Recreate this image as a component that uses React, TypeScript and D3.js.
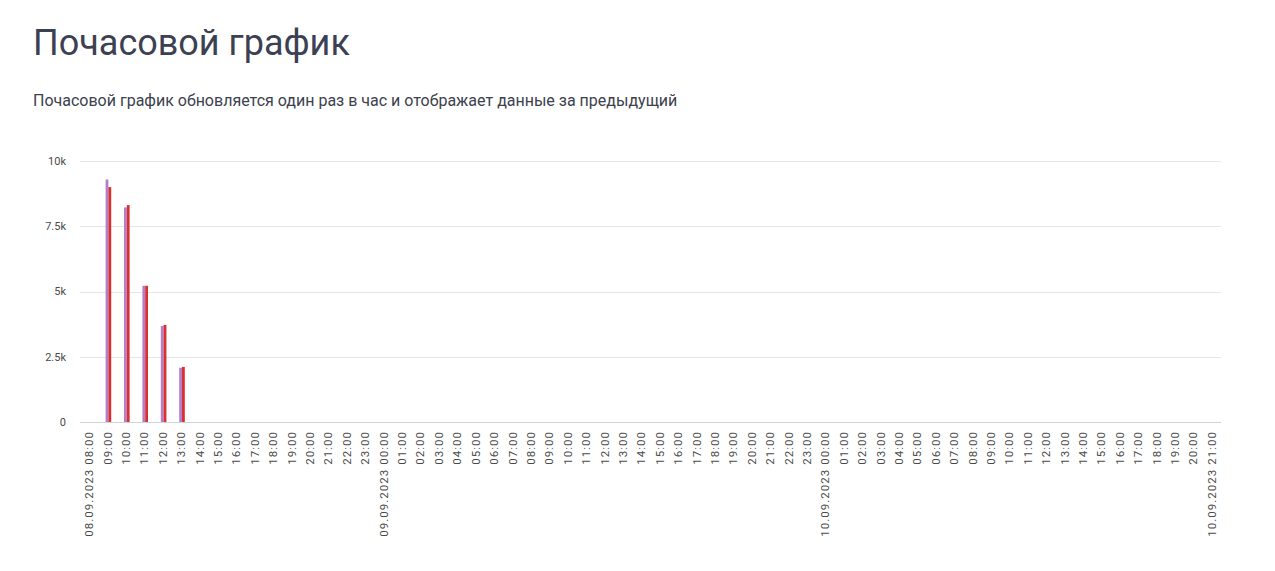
import { useEffect, useRef } from 'react';
import * as d3 from 'd3';

// hourly categories: 08.09.2023 08:00 .. 10.09.2023 21:00
const days = ['08.09.2023', '09.09.2023', '10.09.2023'];
const firstDayHours = d3.range(8, 24);
const midDayHours = d3.range(0, 24);
const lastDayHours = d3.range(0, 22);

const pad = (h: number) => `${String(h).padStart(2, '0')}:00`;

const categories: string[] = [
  ...firstDayHours.map((h) => `${days[0]} ${pad(h)}`),
  ...midDayHours.map((h) => `${days[1]} ${pad(h)}`),
  ...lastDayHours.map((h) => `${days[2]} ${pad(h)}`),
];

// series values (only the first hours carry data)
const seriesA = [0, 9290, 8220, 5220, 3680, 2080];
const seriesB = [0, 9000, 8310, 5220, 3720, 2110];

const yTicks = [0, 2500, 5000, 7500, 10000];
const yTickLabels = ['0', '2.5k', '5k', '7.5k', '10k'];

const W = 1275;
const H = 571;

export default function App() {
  const svgRef = useRef<SVGSVGElement>(null);

  useEffect(() => {
    if (!svgRef.current) return;
    const svg = d3.select(svgRef.current);
    svg.selectAll('*').remove();

    const left = 80;
    const right = 1221;
    const top = 161;
    const bottom = 422;

    const xFull = d3.scaleBand<string>().domain(categories).range([left, right]);
    const y = d3.scaleLinear().domain([0, 10000]).range([bottom, top]);
    const barW = 2.8;

    svg.append('text')
      .attr('x', 33)
      .attr('y', 55)
      .attr('fill', '#3b4152')
      .attr('font-family', 'Roboto, sans-serif')
      .attr('font-size', '36px')
      .text('Почасовой график');

    svg.append('text')
      .attr('x', 33)
      .attr('y', 106)
      .attr('fill', '#3c414d')
      .attr('font-family', 'Roboto, sans-serif')
      .attr('font-size', '16px')
      .text('Почасовой график обновляется один раз в час и отображает данные за предыдущий');

    const g = svg.append('g').attr('font-family', 'Roboto, sans-serif');

    // grid + y labels
    yTicks.forEach((t, i) => {
      g.append('line')
        .attr('x1', left).attr('x2', right)
        .attr('y1', Math.round(y(t)) + 0.5).attr('y2', Math.round(y(t)) + 0.5)
        .attr('stroke', i === 0 ? '#cfd3da' : '#e6e6e6')
        .attr('stroke-width', 1);
      g.append('text')
        .attr('x', 66)
        .attr('y', y(t))
        .attr('dy', '0.35em')
        .attr('text-anchor', 'end')
        .attr('fill', '#4a4a4a')
        .attr('font-size', '11px')
        .text(yTickLabels[i]);
    });

    // bars: two series side by side around the band centre
    const colors = ['#b47fc8', '#d92f2f'];
    categories.forEach((c, i) => {
      const vals = [seriesA[i] ?? 0, seriesB[i] ?? 0];
      const cx = (xFull(c) as number) + xFull.bandwidth() / 2;
      vals.forEach((v, j) => {
        if (!v) return;
        g.append('rect')
          .attr('x', cx - barW + 0.8 + j * barW)
          .attr('y', y(v))
          .attr('width', barW)
          .attr('height', bottom - y(v))
          .attr('fill', colors[j]);
      });
    });

    // x labels
    categories.forEach((c, i) => {
      const [day, hour] = c.split(' ');
      const showDate = i === 0 || i === categories.length - 1 || hour === '00:00';
      const cx = (xFull(c) as number) + xFull.bandwidth() / 2;
      g.append('text')
        .attr('transform', `translate(${cx},431) rotate(-90)`)
        .attr('dy', '0.35em')
        .attr('text-anchor', 'end')
        .attr('fill', '#4a4a4a')
        .attr('font-size', '11.5px')
        .attr('letter-spacing', '0.09em')
        .text(showDate ? `${day} ${hour}` : hour);
    });
  }, []);

  return (
    <svg
      ref={svgRef}
      width={W}
      height={H}
      style={{ position: 'absolute', left: 0, top: 0, background: '#fff' }}
    />
  );
}
